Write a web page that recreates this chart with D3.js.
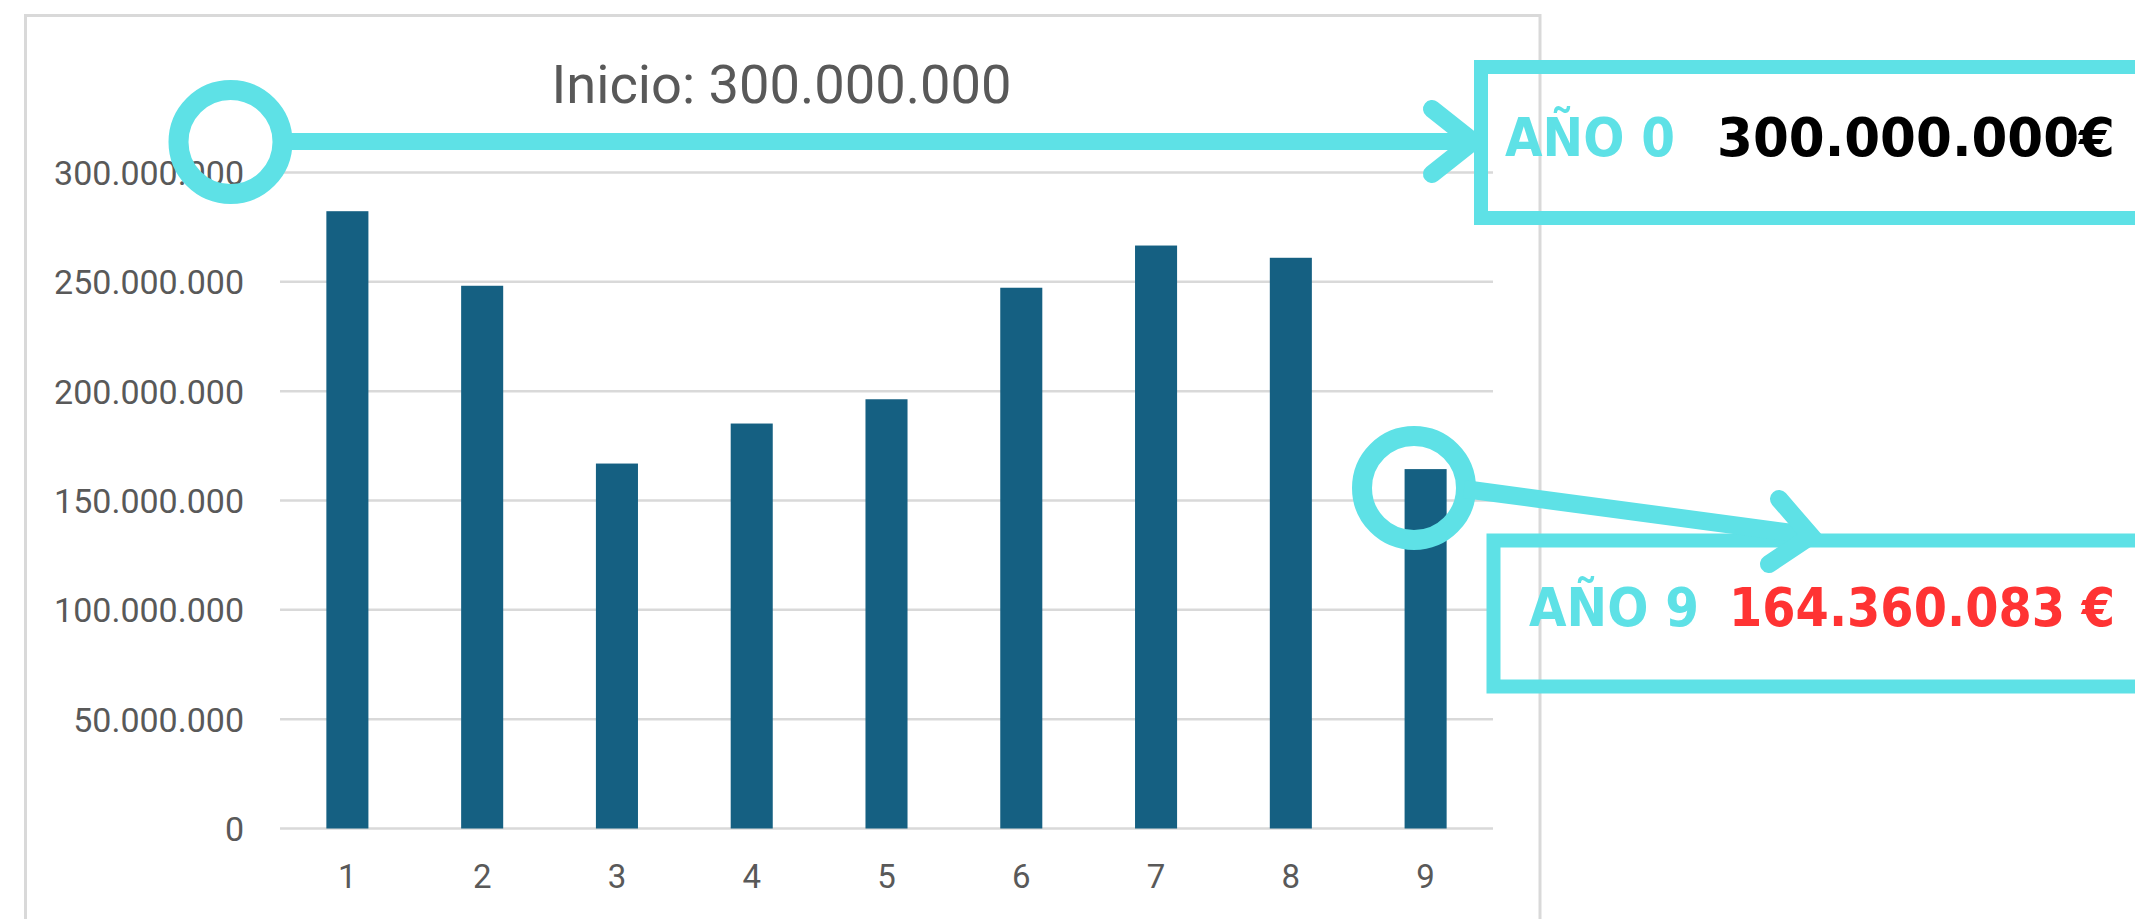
<!DOCTYPE html>
<html>
<head>
<meta charset="utf-8">
<script src="https://cdn.jsdelivr.net/npm/d3@7"></script>
<style>
  html, body { margin: 0; padding: 0; background: #ffffff; }
  svg { display: block; }
</style>
</head>
<body>
<svg id="chart" width="2135" height="919"></svg>
<script>
// ---------- data ----------
const categories = ["1", "2", "3", "4", "5", "6", "7", "8", "9"];
const values = [282300000, 248200000, 166900000, 185200000, 196300000, 247300000, 266600000, 261000000, 164360083];
const yTickValues = [0, 50000000, 100000000, 150000000, 200000000, 250000000, 300000000];
const titleText = "Inicio: 300.000.000";
const startLabel = "AÑO 0";
const startValue = "300.000.000€";
const endLabel = "AÑO 9";
const endValue = "164.360.083 €";

// ---------- style ----------
const BAR = "#156082", GRID = "#d9d9d9", TXT = "#595959", CYAN = "#5ee1e6", RED = "#ff3333";
const axisFont = "Roboto, 'Liberation Sans', sans-serif";
const boldFont = "'DejaVu Sans', sans-serif";

const locale = d3.formatLocale({ decimal: ",", thousands: ".", grouping: [3], currency: ["", "€"] });
const fmt = locale.format(",d");

const svg = d3.select("#chart");

// chart frame
svg.append("rect")
  .attr("x", 25.5).attr("y", 15.5)
  .attr("width", 1514.5).attr("height", 960)
  .attr("fill", "#ffffff").attr("stroke", GRID).attr("stroke-width", 3);

// scales
const x = d3.scaleBand().domain(categories).range([280, 1493]).paddingInner(0.688).paddingOuter(0.344);
const y = d3.scaleLinear().domain([0, 300000000]).range([828.5, 172.5]);

// gridlines
svg.append("g").selectAll("line").data(yTickValues).join("line")
  .attr("x1", 280).attr("x2", 1493)
  .attr("y1", d => y(d)).attr("y2", d => y(d))
  .attr("stroke", GRID).attr("stroke-width", 2.5);

// y axis labels
const yAxis = d3.axisLeft(y).tickValues(yTickValues).tickFormat(fmt).tickSize(0).tickPadding(0);
const yg = svg.append("g").attr("transform", "translate(244,0)").call(yAxis);
yg.select(".domain").remove();
yg.selectAll("text").attr("font-family", axisFont).attr("font-size", 34).attr("fill", TXT).attr("dy", "0.35em");

// x axis labels
const xAxis = d3.axisBottom(x).tickSize(0).tickPadding(0);
const xg = svg.append("g").attr("transform", "translate(0,865)").call(xAxis);
xg.select(".domain").remove();
xg.selectAll("text").attr("font-family", axisFont).attr("font-size", 33).attr("fill", TXT).attr("dy", "0.71em");

// bars
svg.append("g").selectAll("rect").data(values).join("rect")
  .attr("x", (d, i) => x(categories[i]))
  .attr("width", x.bandwidth())
  .attr("y", d => y(d))
  .attr("height", d => y(0) - y(d))
  .attr("fill", BAR);

// title
svg.append("text")
  .attr("x", 781.5).attr("y", 103)
  .attr("text-anchor", "middle")
  .attr("font-family", axisFont).attr("font-size", 54)
  .attr("fill", TXT)
  .attr("textLength", 460).attr("lengthAdjust", "spacingAndGlyphs")
  .text(titleText);

// ---------- annotations ----------
const ann = svg.append("g");

// start: circle + arrow + box
ann.append("rect")
  .attr("x", 1481).attr("y", 67).attr("width", 700).attr("height", 151)
  .attr("fill", "none").attr("stroke", CYAN).attr("stroke-width", 14);
ann.append("circle")
  .attr("cx", 230.5).attr("cy", 142).attr("r", 52)
  .attr("fill", "none").attr("stroke", CYAN).attr("stroke-width", 20);
ann.append("line")
  .attr("x1", 282).attr("y1", 141.5).attr("x2", 1470).attr("y2", 141.5)
  .attr("stroke", CYAN).attr("stroke-width", 17);
ann.append("path")
  .attr("d", "M1432,109 L1473,141.5 L1432,174")
  .attr("fill", "none").attr("stroke", CYAN).attr("stroke-width", 18)
  .attr("stroke-linecap", "round").attr("stroke-linejoin", "miter");

ann.append("text")
  .attr("x", 1505).attr("y", 156)
  .attr("font-family", boldFont).attr("font-weight", "bold").attr("font-size", 54)
  .attr("fill", CYAN)
  .attr("textLength", 170).attr("lengthAdjust", "spacingAndGlyphs")
  .text(startLabel);
ann.append("text")
  .attr("x", 1717).attr("y", 156)
  .attr("font-family", boldFont).attr("font-weight", "bold").attr("font-size", 54)
  .attr("fill", "#000000")
  .attr("textLength", 398).attr("lengthAdjust", "spacingAndGlyphs")
  .text(startValue);

// end: circle + arrow + box
ann.append("rect")
  .attr("x", 1493.5).attr("y", 540.5).attr("width", 700).attr("height", 146)
  .attr("fill", "none").attr("stroke", CYAN).attr("stroke-width", 14);
ann.append("circle")
  .attr("cx", 1414).attr("cy", 488).attr("r", 52)
  .attr("fill", "none").attr("stroke", CYAN).attr("stroke-width", 20);
ann.append("line")
  .attr("x1", 1464).attr("y1", 489).attr("x2", 1808).attr("y2", 535)
  .attr("stroke", CYAN).attr("stroke-width", 18);
ann.append("path")
  .attr("d", "M1779,499 L1811,536 L1769,564")
  .attr("fill", "none").attr("stroke", CYAN).attr("stroke-width", 18)
  .attr("stroke-linecap", "round").attr("stroke-linejoin", "miter");

ann.append("text")
  .attr("x", 1529).attr("y", 626)
  .attr("font-family", boldFont).attr("font-weight", "bold").attr("font-size", 54)
  .attr("fill", CYAN)
  .attr("textLength", 170).attr("lengthAdjust", "spacingAndGlyphs")
  .text(endLabel);
ann.append("text")
  .attr("x", 1729).attr("y", 626)
  .attr("font-family", boldFont).attr("font-weight", "bold").attr("font-size", 54)
  .attr("fill", RED)
  .attr("textLength", 386).attr("lengthAdjust", "spacingAndGlyphs")
  .text(endValue);
</script>
</body>
</html>
